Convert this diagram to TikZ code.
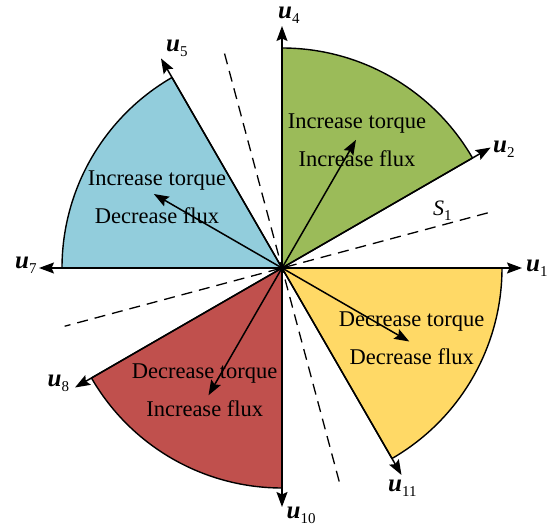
\documentclass[tikz,border=0pt]{standalone}
\usepackage{fontspec}
\setmainfont{Liberation Serif}
\usetikzlibrary{arrows.meta}
\definecolor{secgreen}{HTML}{9BBB59}
\definecolor{secblue}{HTML}{92CDDC}
\definecolor{secred}{HTML}{C0504D}
\definecolor{secyellow}{HTML}{FFD966}
\tikzset{
  sector/.style={draw=black, line width=1.4pt, line join=round},
  vec/.style={line width=1.5pt, -{Stealth[length=15pt,width=11pt,inset=2.5pt]}},
  divline/.style={line width=1.3pt, dash pattern=on 11pt off 7pt},
  lab/.style={font=\fontsize{22.5}{22.5}\selectfont, inner sep=0pt, anchor=base},
  ulab/.style={font=\fontsize{25}{25}\selectfont, inner sep=0pt, anchor=base west},
}
\newcommand{\ulbl}[1]{{\bfseries\itshape u}\raisebox{-5pt}{\fontsize{15}{15}\selectfont #1}}
\begin{document}
\begin{tikzpicture}[x=1pt,y=1pt]
\useasboundingbox (-282,-259) rectangle (265,268);
\coordinate (O) at (0,0);
% sectors
\filldraw[sector, fill=secgreen] (O) -- (30:220pt) arc[start angle=30, end angle=90, radius=220pt] -- cycle;
\filldraw[sector, fill=secblue] (O) -- (120:220pt) arc[start angle=120, end angle=180, radius=220pt] -- cycle;
\filldraw[sector, fill=secred] (O) -- (210:220pt) arc[start angle=210, end angle=270, radius=220pt] -- cycle;
\filldraw[sector, fill=secyellow] (O) -- (300:220pt) arc[start angle=300, end angle=360, radius=220pt] -- cycle;
% dashed sector boundaries
\coordinate (da) at (105:222pt);
\coordinate (db) at (285:224pt);
\coordinate (dc) at (15:213pt);
\coordinate (dd) at (195:225pt);
\draw[divline] (da) -- (db);
\draw[divline] (dc) -- (dd);
% voltage vectors
\coordinate (t1) at (0:240pt);
\coordinate (t2) at (30:241pt);
\coordinate (t4) at (90:242pt);
\coordinate (t5) at (120:242pt);
\coordinate (t7) at (180:243pt);
\coordinate (t8) at (210:239pt);
\coordinate (t10) at (270:239pt);
\coordinate (t11) at (300:239pt);
\foreach \t in {t1,t2,t4,t5,t7,t8,t10,t11} \draw[vec] (O) -- (\t);
% inner arrows
\coordinate (a1) at (60:148pt);
\coordinate (a2) at (150:148pt);
\coordinate (a3) at (240:147pt);
\coordinate (a4) at (330:147pt);
\foreach \t in {a1,a2,a3,a4} \draw[vec] (O) -- (\t);
% texts
\node[lab] (g1) at (75,139) {Increase torque};
\node[lab] (g2) at (75,101.3) {Increase flux};
\node[lab] (b1) at (-125,82) {Increase torque};
\node[lab] (b2) at (-125,44.7) {Decrease flux};
\node[lab] (y1) at (129.7,-58.7) {Decrease torque};
\node[lab] (y2) at (129.7,-97) {Decrease flux};
\node[lab] (r1) at (-77.3,-110.3) {Decrease torque};
\node[lab] (r2) at (-77.3,-148.7) {Increase flux};
\node[anchor=base west, inner sep=0pt, font=\fontsize{22}{22}\selectfont] (s1) at (151,52.5) {\itshape S\raisebox{-5pt}{\upshape\fontsize{15}{15}\selectfont 1}};
% vector labels
\node[ulab] (u1) at (244,-4) {\ulbl{1}};
\node[ulab] (u2) at (211,115) {\ulbl{2}};
\node[ulab] (u4) at (-4,249.5) {\ulbl{4}};
\node[ulab] (u5) at (-116,216) {\ulbl{5}};
\node[ulab] (u7) at (-267,-0.3) {\ulbl{7}};
\node[ulab] (u8) at (-234.5,-118.7) {\ulbl{8}};
\node[ulab] (u10) at (4.5,-250.3) {\ulbl{10}};
\node[ulab] (u11) at (106,-223.7) {\ulbl{11}};
\end{tikzpicture}
\end{document}
